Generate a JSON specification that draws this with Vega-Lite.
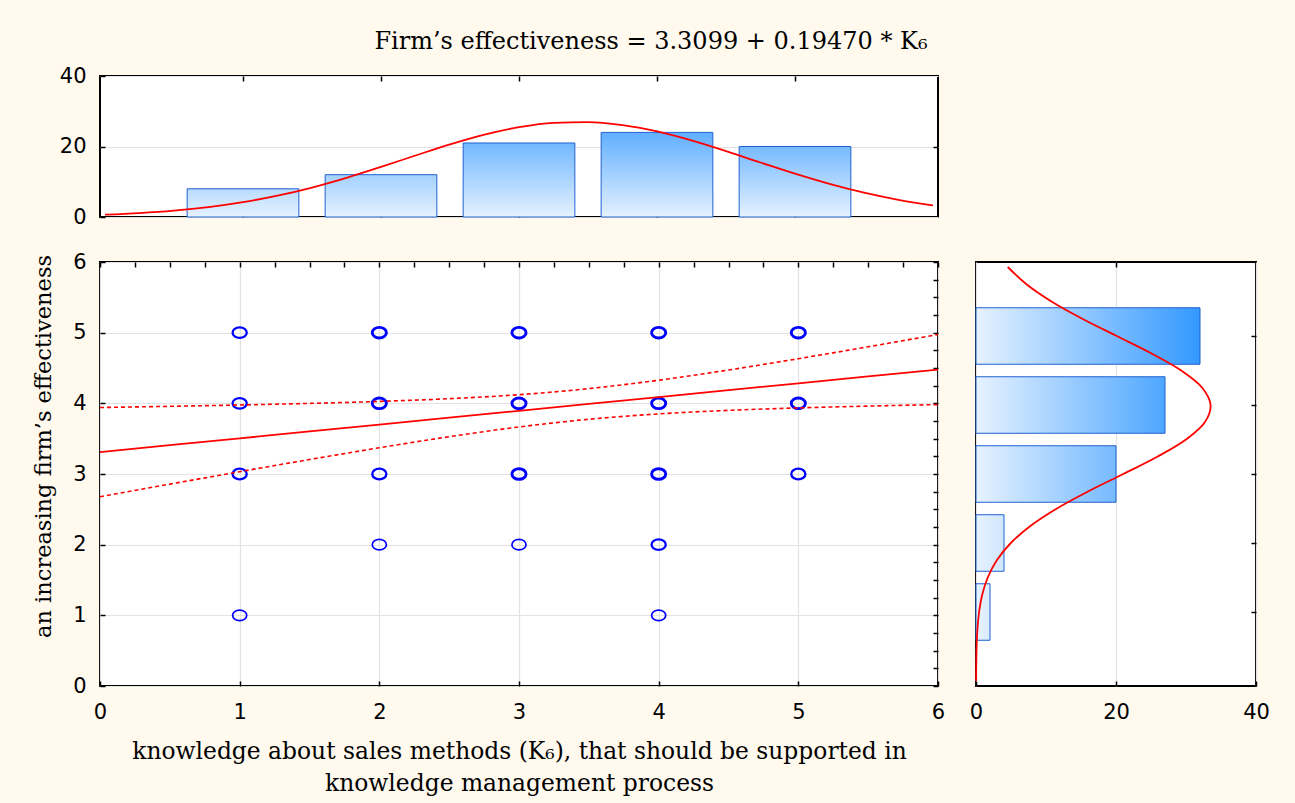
{
  "$schema": "https://vega.github.io/schema/vega-lite/v6.json",
  "description": "Firm's effectiveness vs knowledge about sales methods (K6): scatter with regression line, 95% band and marginal histograms",
  "background": "#fff9ee",
  "padding": {"left": 31, "top": 30, "right": 25, "bottom": 13},
  "title": {
    "text": "Firm’s effectiveness  = 3.3099 + 0.19470 * K₆",
    "font": "DejaVu Serif",
    "fontSize": 24,
    "fontWeight": "normal",
    "color": "black",
    "anchor": "middle",
    "offset": 10
  },
  "datasets": {
    "points": [
      {"x": 1, "y": 5, "n": 2}, {"x": 1, "y": 4, "n": 2}, {"x": 1, "y": 3, "n": 3}, {"x": 1, "y": 1, "n": 1},
      {"x": 2, "y": 5, "n": 4}, {"x": 2, "y": 4, "n": 4}, {"x": 2, "y": 3, "n": 3}, {"x": 2, "y": 2, "n": 1},
      {"x": 3, "y": 5, "n": 7}, {"x": 3, "y": 4, "n": 7}, {"x": 3, "y": 3, "n": 6}, {"x": 3, "y": 2, "n": 1},
      {"x": 4, "y": 5, "n": 8}, {"x": 4, "y": 4, "n": 8}, {"x": 4, "y": 3, "n": 5}, {"x": 4, "y": 2, "n": 2}, {"x": 4, "y": 1, "n": 1},
      {"x": 5, "y": 5, "n": 11}, {"x": 5, "y": 4, "n": 6}, {"x": 5, "y": 3, "n": 3}
    ],
    "xhist": [
      {"k": 1, "count": 8}, {"k": 2, "count": 12}, {"k": 3, "count": 21}, {"k": 4, "count": 24}, {"k": 5, "count": 20}
    ],
    "yhist": [
      {"k": 1, "count": 2}, {"k": 2, "count": 4}, {"k": 3, "count": 20}, {"k": 4, "count": 27}, {"k": 5, "count": 32}
    ],
    "xcurve": [
      {"x": 0, "f": 0.662}, {"x": 0.25, "f": 1.115}, {"x": 0.5, "f": 1.805}, {"x": 0.75, "f": 2.811},
      {"x": 1, "f": 4.207}, {"x": 1.25, "f": 6.052}, {"x": 1.5, "f": 8.367}, {"x": 1.75, "f": 11.121},
      {"x": 2, "f": 14.207}, {"x": 2.25, "f": 17.446}, {"x": 2.5, "f": 20.592}, {"x": 2.75, "f": 23.365},
      {"x": 3, "f": 25.482}, {"x": 3.25, "f": 26.714}, {"x": 3.5, "f": 26.92}, {"x": 3.75, "f": 26.076},
      {"x": 4, "f": 24.278}, {"x": 4.25, "f": 21.729}, {"x": 4.5, "f": 18.692}, {"x": 4.75, "f": 15.458},
      {"x": 5, "f": 12.287}, {"x": 5.25, "f": 9.388}, {"x": 5.5, "f": 6.894}, {"x": 5.75, "f": 4.867},
      {"x": 6, "f": 3.303}
    ],
    "ycurve": [
      {"y": 0, "g": 0.015}, {"y": 0.25, "g": 0.038}, {"y": 0.5, "g": 0.091}, {"y": 0.75, "g": 0.207},
      {"y": 1, "g": 0.442}, {"y": 1.25, "g": 0.887}, {"y": 1.5, "g": 1.675}, {"y": 1.75, "g": 2.975},
      {"y": 2, "g": 4.971}, {"y": 2.25, "g": 7.814}, {"y": 2.5, "g": 11.554}, {"y": 2.75, "g": 16.073},
      {"y": 3, "g": 21.038}, {"y": 3.25, "g": 25.901}, {"y": 3.5, "g": 30.001}, {"y": 3.75, "g": 32.69},
      {"y": 4, "g": 33.511}, {"y": 4.25, "g": 32.317}, {"y": 4.5, "g": 29.319}, {"y": 4.75, "g": 25.024},
      {"y": 5, "g": 20.093}, {"y": 5.25, "g": 15.177}, {"y": 5.5, "g": 10.784}, {"y": 5.75, "g": 7.21},
      {"y": 6, "g": 4.534}
    ],
    "fit": [
      {"x": 0, "fit": 3.3099, "upper": 3.9409, "lower": 2.6789},
      {"x": 0.5, "fit": 3.4073, "upper": 3.9578, "lower": 2.8568},
      {"x": 1, "fit": 3.5046, "upper": 3.9767, "lower": 3.0325},
      {"x": 1.5, "fit": 3.602, "upper": 3.9991, "lower": 3.2049},
      {"x": 2, "fit": 3.6993, "upper": 4.0272, "lower": 3.3714},
      {"x": 2.5, "fit": 3.7967, "upper": 4.0657, "lower": 3.5277},
      {"x": 3, "fit": 3.894, "upper": 4.1224, "lower": 3.6656},
      {"x": 3.5, "fit": 3.9914, "upper": 4.2082, "lower": 3.7746},
      {"x": 4, "fit": 4.0887, "upper": 4.3269, "lower": 3.8505},
      {"x": 4.5, "fit": 4.1861, "upper": 4.4717, "lower": 3.9005},
      {"x": 5, "fit": 4.2834, "upper": 4.6317, "lower": 3.9351},
      {"x": 5.5, "fit": 4.3808, "upper": 4.8004, "lower": 3.9612},
      {"x": 6, "fit": 4.4781, "upper": 4.9739, "lower": 3.9823}
    ]
  },
  "columns": 2,
  "spacing": {"row": 45, "column": 38},
  "bounds": "flush",
  "concat": [
    {
      "width": 838,
      "height": 141,
      "layer": [
        {
          "data": {"name": "xhist"},
          "mark": {"type": "bar", "width": 111.7, "stroke": "#2060d0", "strokeWidth": 1},
          "encoding": {
            "x": {
              "field": "k", "type": "quantitative",
              "scale": {"domain": [0, 6], "nice": false, "zero": false},
              "axis": {"orient": "bottom", "values": [1, 2, 3, 4, 5], "labels": false, "grid": false, "title": null}
            },
            "y": {
              "field": "count", "type": "quantitative",
              "scale": {"domain": [0, 40], "nice": false},
              "axis": {"orient": "left", "values": [0, 20, 40], "grid": true, "title": null}
            },
            "fill": {
              "condition": [
                {"test": "datum.k === 1", "value": {"gradient": "linear", "x1": 0, "y1": 1, "x2": 0, "y2": 0, "stops": [{"offset": 0, "color": "#e6f2ff"}, {"offset": 1, "color": "#b9dcff"}]}},
                {"test": "datum.k === 2", "value": {"gradient": "linear", "x1": 0, "y1": 1, "x2": 0, "y2": 0, "stops": [{"offset": 0, "color": "#e6f2ff"}, {"offset": 1, "color": "#a3d1ff"}]}},
                {"test": "datum.k === 3", "value": {"gradient": "linear", "x1": 0, "y1": 1, "x2": 0, "y2": 0, "stops": [{"offset": 0, "color": "#e6f2ff"}, {"offset": 1, "color": "#71b8ff"}]}},
                {"test": "datum.k === 4", "value": {"gradient": "linear", "x1": 0, "y1": 1, "x2": 0, "y2": 0, "stops": [{"offset": 0, "color": "#e6f2ff"}, {"offset": 1, "color": "#60afff"}]}}
              ],
              "value": {"gradient": "linear", "x1": 0, "y1": 1, "x2": 0, "y2": 0, "stops": [{"offset": 0, "color": "#e6f2ff"}, {"offset": 1, "color": "#76baff"}]}
            }
          }
        },
        {
          "data": {"name": "xcurve"},
          "mark": {"type": "line", "color": "#ff0000", "strokeWidth": 1.8, "interpolate": "monotone"},
          "encoding": {
            "x": {
              "field": "x", "type": "quantitative",
              "axis": {"orient": "top", "values": [1, 2, 3, 4, 5], "labels": false, "grid": false, "title": null}
            },
            "y": {
              "field": "f", "type": "quantitative",
              "axis": {"orient": "right", "values": [20], "labels": false, "grid": false, "title": null}
            }
          }
        }
      ],
      "resolve": {"axis": {"x": "independent", "y": "independent"}}
    },
    {
      "width": 280,
      "height": 141,
      "view": {"stroke": null, "fill": null},
      "data": {"values": []},
      "mark": "text"
    },
    {
      "width": 838,
      "height": 424,
      "layer": [
        {
          "data": {"name": "points"},
          "mark": {
            "type": "point",
            "shape": "M-1,0A1,0.75,0,1,1,1,0A1,0.75,0,1,1,-1,0Z",
            "filled": false,
            "color": "#0000ff",
            "size": 200,
            "opacity": 1
          },
          "encoding": {
            "x": {
              "field": "x", "type": "quantitative",
              "scale": {"domain": [0, 6], "nice": false},
              "axis": {
                "orient": "bottom",
                "values": [0, 0.25, 0.5, 0.75, 1, 1.25, 1.5, 1.75, 2, 2.25, 2.5, 2.75, 3, 3.25, 3.5, 3.75, 4, 4.25, 4.5, 4.75, 5, 5.25, 5.5, 5.75, 6],
                "format": "d",
                "labelExpr": "datum.value % 1 === 0 ? datum.label : ''",
                "gridOpacity": {"condition": {"test": "datum.value % 1 !== 0", "value": 0}, "value": 1},
                "title": ["knowledge about sales methods (K₆), that should be supported in", "knowledge management process"],
                "titleFontSize": 23.4,
                "titlePadding": 18,
                "titleLineHeight": 32
              }
            },
            "y": {
              "field": "y", "type": "quantitative",
              "scale": {"domain": [0, 6], "nice": false},
              "axis": {
                "orient": "left",
                "values": [0, 0.25, 0.5, 0.75, 1, 1.25, 1.5, 1.75, 2, 2.25, 2.5, 2.75, 3, 3.25, 3.5, 3.75, 4, 4.25, 4.5, 4.75, 5, 5.25, 5.5, 5.75, 6],
                "format": "d",
                "labelExpr": "datum.value % 1 === 0 ? datum.label : ''",
                "gridOpacity": {"condition": {"test": "datum.value % 1 !== 0", "value": 0}, "value": 1},
                "title": "an increasing firm’s effectiveness",
                "titleFontSize": 22.5,
                "titlePadding": 17,
                "titleY": 184
              }
            },
            "strokeWidth": {
              "field": "n", "type": "quantitative",
              "scale": {"type": "threshold", "domain": [2, 4], "range": [1.7, 2.3, 2.9]},
              "legend": null
            }
          }
        },
        {
          "data": {"name": "fit"},
          "mark": {"type": "line", "color": "#ff0000", "strokeWidth": 1.8},
          "encoding": {
            "x": {
              "field": "x", "type": "quantitative",
              "axis": {
                "orient": "top", "labels": false, "grid": false, "title": null,
                "values": [0, 0.25, 0.5, 0.75, 1, 1.25, 1.5, 1.75, 2, 2.25, 2.5, 2.75, 3, 3.25, 3.5, 3.75, 4, 4.25, 4.5, 4.75, 5, 5.25, 5.5, 5.75, 6]
              }
            },
            "y": {
              "field": "fit", "type": "quantitative",
              "axis": {
                "orient": "right", "labels": false, "grid": false, "title": null,
                "values": [0, 0.25, 0.5, 0.75, 1, 1.25, 1.5, 1.75, 2, 2.25, 2.5, 2.75, 3, 3.25, 3.5, 3.75, 4, 4.25, 4.5, 4.75, 5, 5.25, 5.5, 5.75, 6]
              }
            }
          }
        },
        {
          "data": {"name": "fit"},
          "mark": {"type": "line", "color": "#ff0000", "strokeWidth": 1.6, "strokeDash": [4, 3], "interpolate": "monotone"},
          "encoding": {
            "x": {"field": "x", "type": "quantitative", "axis": null},
            "y": {"field": "upper", "type": "quantitative", "axis": null}
          }
        },
        {
          "data": {"name": "fit"},
          "mark": {"type": "line", "color": "#ff0000", "strokeWidth": 1.6, "strokeDash": [4, 3], "interpolate": "monotone"},
          "encoding": {
            "x": {"field": "x", "type": "quantitative", "axis": null},
            "y": {"field": "lower", "type": "quantitative", "axis": null}
          }
        }
      ],
      "resolve": {"axis": {"x": "independent", "y": "independent"}}
    },
    {
      "width": 280,
      "height": 424,
      "layer": [
        {
          "data": {"name": "yhist"},
          "mark": {"type": "bar", "orient": "horizontal", "height": 56.5, "stroke": "#2060d0", "strokeWidth": 1},
          "encoding": {
            "y": {
              "field": "k", "type": "quantitative",
              "scale": {"domain": [0, 6], "nice": false, "zero": false},
              "axis": {"orient": "left", "values": [1, 2, 3, 4, 5], "labels": false, "grid": false, "title": null}
            },
            "x": {
              "field": "count", "type": "quantitative",
              "scale": {"domain": [0, 40], "nice": false},
              "axis": {"orient": "bottom", "values": [0, 20, 40], "grid": true, "title": null}
            },
            "fill": {
              "condition": [
                {"test": "datum.k === 1", "value": {"gradient": "linear", "x1": 0, "y1": 0, "x2": 1, "y2": 0, "stops": [{"offset": 0, "color": "#e6f2ff"}, {"offset": 1, "color": "#dbecff"}]}},
                {"test": "datum.k === 2", "value": {"gradient": "linear", "x1": 0, "y1": 0, "x2": 1, "y2": 0, "stops": [{"offset": 0, "color": "#e6f2ff"}, {"offset": 1, "color": "#d0e7ff"}]}},
                {"test": "datum.k === 3", "value": {"gradient": "linear", "x1": 0, "y1": 0, "x2": 1, "y2": 0, "stops": [{"offset": 0, "color": "#e6f2ff"}, {"offset": 1, "color": "#76baff"}]}},
                {"test": "datum.k === 4", "value": {"gradient": "linear", "x1": 0, "y1": 0, "x2": 1, "y2": 0, "stops": [{"offset": 0, "color": "#e6f2ff"}, {"offset": 1, "color": "#4fa7ff"}]}}
              ],
              "value": {"gradient": "linear", "x1": 0, "y1": 0, "x2": 1, "y2": 0, "stops": [{"offset": 0, "color": "#e6f2ff"}, {"offset": 1, "color": "#3399ff"}]}
            }
          }
        },
        {
          "data": {"name": "ycurve"},
          "mark": {"type": "line", "color": "#ff0000", "strokeWidth": 1.8, "interpolate": "catmull-rom"},
          "encoding": {
            "x": {
              "field": "g", "type": "quantitative",
              "axis": {"orient": "top", "values": [20], "labels": false, "grid": false, "title": null}
            },
            "y": {
              "field": "y", "type": "quantitative",
              "axis": {"orient": "right", "values": [1, 2, 3, 4, 5], "labels": false, "grid": false, "title": null}
            },
            "order": {"field": "y", "type": "quantitative"}
          }
        }
      ],
      "resolve": {"axis": {"x": "independent", "y": "independent"}}
    }
  ],
  "config": {
    "view": {"stroke": "black", "strokeWidth": 2, "fill": "white"},
    "axis": {
      "domain": false,
      "labelFont": "DejaVu Sans",
      "labelFontSize": 21,
      "labelColor": "black",
      "labelFlush": false,
      "labelOverlap": false,
      "tickColor": "black",
      "tickWidth": 1.5,
      "tickSize": -5,
      "gridColor": "#e2e2e2",
      "gridWidth": 1.2,
      "titleFont": "DejaVu Serif",
      "titleFontSize": 24,
      "titleFontWeight": "normal",
      "titleColor": "black"
    },
    "axisX": {"labelPadding": 20},
    "axisY": {"labelPadding": 19}
  }
}
